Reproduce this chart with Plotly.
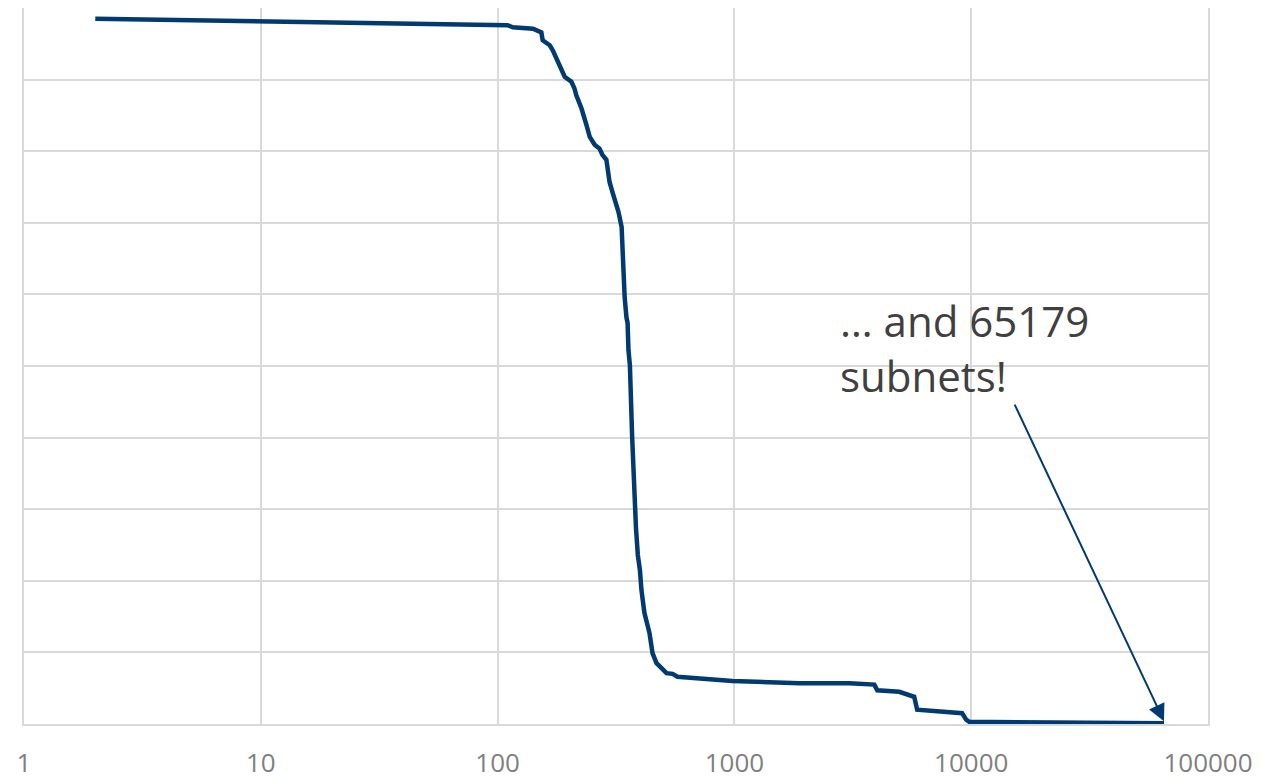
import math
import plotly.graph_objects as go

# Data (x: subnet rank, log scale; y: share, 0-100 scale)
subnet_rank = [2, 84, 110, 116, 141, 153, 155, 166, 171, 192, 205, 211, 215, 226,
               233, 237, 245, 257, 269, 277, 288, 291, 297, 306, 315, 324, 334,
               337, 340, 344, 350, 354, 357, 362, 370, 379, 384, 391, 399, 405,
               417, 438, 451, 469, 492, 517, 548, 575, 981, 1881, 3055, 3822,
               3898, 4012, 4966, 5746, 5913, 9155, 9524, 9811, 65179]
share = [98.5, 97.6, 97.6, 97.3, 97.1, 96.6, 95.5, 94.8, 94.1, 90.4, 89.7, 88.8,
         87.8, 86.0, 84.8, 83.7, 82.0, 80.9, 80.4, 79.5, 78.8, 77.8, 75.7, 74.2,
         72.9, 71.5, 69.4, 66.2, 62.4, 59.6, 56.8, 56.0, 52.2, 50.1, 40.1, 29.9,
         27.4, 23.6, 21.5, 18.7, 15.5, 12.7, 9.9, 8.5, 7.8, 7.1, 7.0, 6.6, 6.0,
         5.7, 5.7, 5.6, 5.5, 4.7, 4.5, 3.8, 2.0, 1.5, 0.6, 0.3, 0.1]

tick_vals = [1, 10, 100, 1000, 10000, 100000]
tick_text = ["1", "10", "100", "1000", "10000", "100000"]
total_subnets = 65179
annotation_text = "… and 65179<br>subnets!"

LINE_COLOR = "#003a70"
GRID_COLOR = "#d9d9d9"

fig = go.Figure()
fig.add_trace(go.Scatter(x=subnet_rank, y=share, mode="lines",
                         line=dict(color=LINE_COLOR, width=4.5),
                         hoverinfo="skip", showlegend=False))

fig.add_annotation(x=math.log10(total_subnets), y=0.4, xref="x", yref="y",
                   text="", showarrow=True, ax=-150, ay=-318, axref="pixel", ayref="pixel",
                   arrowhead=2, arrowsize=1.7, arrowwidth=2, arrowcolor=LINE_COLOR,
                   standoff=0)
fig.add_annotation(x=0.6875, y=52.5, xref="paper", yref="y", xanchor="left", yanchor="middle",
                   text=annotation_text, showarrow=False, align="left",
                   font=dict(family="Open Sans", size=42, color="#404040"))

fig.update_layout(
    width=1254, height=773,
    margin=dict(l=16, r=54, t=0, b=57, autoexpand=False),
    paper_bgcolor="white", plot_bgcolor="white",
    xaxis=dict(type="log", range=[0, 5], tickvals=tick_vals, ticktext=tick_text,
               showgrid=True, gridcolor=GRID_COLOR, gridwidth=1.5,
               showline=True, linecolor=GRID_COLOR, linewidth=1.5, mirror=True,
               ticks="", ticklabelstandoff=15, zeroline=False, automargin=False,
               tickfont=dict(family="Open Sans", size=26, color="#7f7f7f")),
    yaxis=dict(range=[0, 100], dtick=10, showticklabels=False,
               showgrid=True, gridcolor=GRID_COLOR, gridwidth=1.5,
               showline=True, linecolor=GRID_COLOR, linewidth=1.5, mirror=True,
               ticks="", zeroline=False, automargin=False),
)

fig.write_html("out.html")
